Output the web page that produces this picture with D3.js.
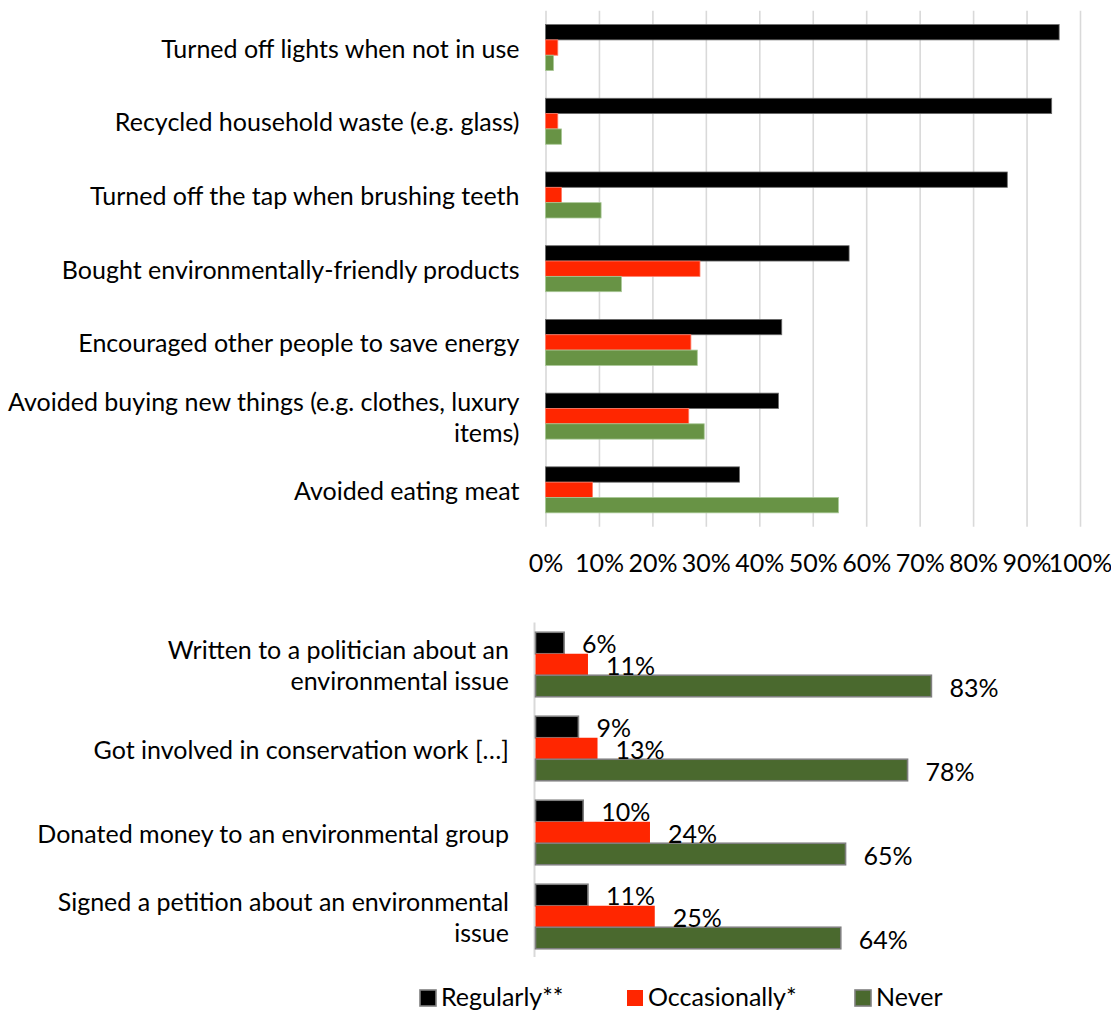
<!DOCTYPE html>
<html>
<head>
<meta charset="utf-8">
<script src="https://cdn.jsdelivr.net/npm/d3@7"></script>
<style>
  html, body { margin: 0; padding: 0; background: #fff; }
  svg { display: block; font-family: "Lato", "Open Sans", sans-serif; }
</style>
</head>
<body>
<svg id="chart" width="1111" height="1010"></svg>
<script>
// ---- Everyday behaviours (percent of respondents) ----
const habitCategories = [
  "Turned off lights when not in use",
  "Recycled household waste (e.g. glass)",
  "Turned off the tap when brushing teeth",
  "Bought environmentally-friendly products",
  "Encouraged other people to save energy",
  "Avoided buying new things (e.g. clothes, luxury\nitems)",
  "Avoided eating meat"
];
const habitRegularly    = [96.1, 94.7, 86.4, 56.8, 44.2, 43.6, 36.3];
const habitOccasionally = [2.3, 2.3, 3.0, 28.9, 27.2, 26.8, 8.8];
const habitNever        = [1.5, 3.0, 10.4, 14.2, 28.4, 29.7, 54.8];
const habitTicks = [0, 10, 20, 30, 40, 50, 60, 70, 80, 90, 100];

// ---- Civic actions (percent of respondents) ----
const actionCategories = [
  "Written to a politician about an\nenvironmental issue",
  "Got involved in conservation work […]",
  "Donated money to an environmental group",
  "Signed a petition about an environmental\nissue"
];
const actionRegularly    = [6, 9, 10, 11];
const actionOccasionally = [11, 13, 24, 25];
const actionNever        = [83, 78, 65, 64];

const seriesNames = ["Regularly**", "Occasionally*", "Never"];

const FONT = 25;
const svg = d3.select("#chart");

// multi-line right-aligned category labels
function drawCategoryLabels(g, cats, yScale, xRight) {
  const lineH = 31;
  cats.forEach(c => {
    const lines = c.split("\n");
    const cy = yScale(c) + yScale.bandwidth() / 2;
    const t = g.append("text")
      .attr("text-anchor", "end")
      .attr("font-size", FONT)
      .attr("fill", "#000");
    lines.forEach((ln, i) => {
      t.append("tspan")
        .attr("x", xRight)
        .attr("y", cy + 10 + (i - (lines.length - 1) / 2) * lineH)
        .text(ln);
    });
  });
}

// ================= Top chart =================
{
  const x = d3.scaleLinear().domain([0, 100]).range([545.5, 1080]);
  const y = d3.scaleBand().domain(habitCategories)
    .range([10.7, 526.7]).paddingInner(0.376).paddingOuter(0.188);
  const sub = d3.scaleBand().domain(seriesNames).range([0, y.bandwidth()]);

  const g = svg.append("g");

  // vertical gridlines + percentage labels
  const axis = d3.axisBottom(x)
    .tickValues(habitTicks)
    .tickFormat(d => d + "%")
    .tickSize(-(526.7 - 10.7))
    .tickPadding(28);
  const ax = g.append("g")
    .attr("transform", "translate(0,526.7)")
    .call(axis);
  ax.select(".domain").remove();
  ax.selectAll(".tick line").attr("stroke", "#d9d9d9").attr("stroke-width", 1.6);
  ax.selectAll(".tick text")
    .attr("font-size", FONT)
    .attr("font-family", "Lato, sans-serif")
    .attr("fill", "#000");

  const styles = [
    { vals: habitRegularly, fill: "#000000", stroke: "#6b6b6b" },
    { vals: habitOccasionally, fill: "#ff2600", stroke: "#ff7a66" },
    { vals: habitNever, fill: "#689345", stroke: "#a9c896" }
  ];
  styles.forEach((s, si) => {
    g.append("g").selectAll("rect")
      .data(habitCategories)
      .join("rect")
      .attr("x", x(0))
      .attr("y", d => y(d) + sub(seriesNames[si]))
      .attr("width", (d, i) => x(s.vals[i]) - x(0))
      .attr("height", sub.bandwidth())
      .attr("fill", s.fill)
      .attr("stroke", s.stroke)
      .attr("stroke-width", 0.8);
  });

  drawCategoryLabels(g, habitCategories, y, 519.5);
}

// ================= Bottom chart =================
{
  const x = d3.scaleLinear().domain([0, 100]).range([535.5, 1012.5]);
  const y = d3.scaleBand().domain(actionCategories)
    .range([622.5, 958.5]).paddingInner(0.232).paddingOuter(0.116);
  const sub = d3.scaleBand().domain(seriesNames).range([0, y.bandwidth()]);

  const g = svg.append("g");

  // category axis line
  g.append("line")
    .attr("x1", x(0) - 1).attr("x2", x(0) - 1)
    .attr("y1", y.range()[0]).attr("y2", y.range()[1] - 1.5)
    .attr("stroke", "#d9d9d9").attr("stroke-width", 2);

  const styles = [
    { vals: actionRegularly, fill: "#000000", stroke: "#7f7f7f", sw: 1.6 },
    { vals: actionOccasionally, fill: "#ff2600", stroke: "none", sw: 0 },
    { vals: actionNever, fill: "#4a692e", stroke: "#7f7f7f", sw: 1.6 }
  ];
  styles.forEach((s, si) => {
    const sg = g.append("g");
    sg.selectAll("rect")
      .data(actionCategories)
      .join("rect")
      .attr("x", x(0))
      .attr("y", d => y(d) + sub(seriesNames[si]))
      .attr("width", (d, i) => x(s.vals[i]) - x(0))
      .attr("height", sub.bandwidth())
      .attr("fill", s.fill)
      .attr("stroke", s.stroke)
      .attr("stroke-width", s.sw);
  });
  // value labels, drawn after all bars so they sit on top
  styles.forEach((s, si) => {
    g.append("g").selectAll("text")
      .data(actionCategories)
      .join("text")
      .attr("x", (d, i) => x(s.vals[i]) + 18)
      .attr("y", d => y(d) + sub(seriesNames[si]) + sub.bandwidth() / 2 + 10.5)
      .attr("font-size", FONT)
      .attr("fill", "#000")
      .text((d, i) => s.vals[i] + "%");
  });

  drawCategoryLabels(g, actionCategories, y, 509);
}

// ================= Legend =================
{
  const items = [
    { name: seriesNames[0], fill: "#000000", stroke: "#7f7f7f", x: 420 },
    { name: seriesNames[1], fill: "#ff2600", stroke: "none", x: 627 },
    { name: seriesNames[2], fill: "#4a692e", stroke: "#7f7f7f", x: 855 }
  ];
  const lg = svg.append("g");
  items.forEach(it => {
    lg.append("rect")
      .attr("x", it.x).attr("y", 990)
      .attr("width", 16).attr("height", 16)
      .attr("fill", it.fill)
      .attr("stroke", it.stroke)
      .attr("stroke-width", it.stroke === "none" ? 0 : 1.6);
    lg.append("text")
      .attr("x", it.x + 21).attr("y", 1006)
      .attr("font-size", FONT)
      .attr("fill", "#000")
      .text(it.name);
  });
}
</script>
</body>
</html>
